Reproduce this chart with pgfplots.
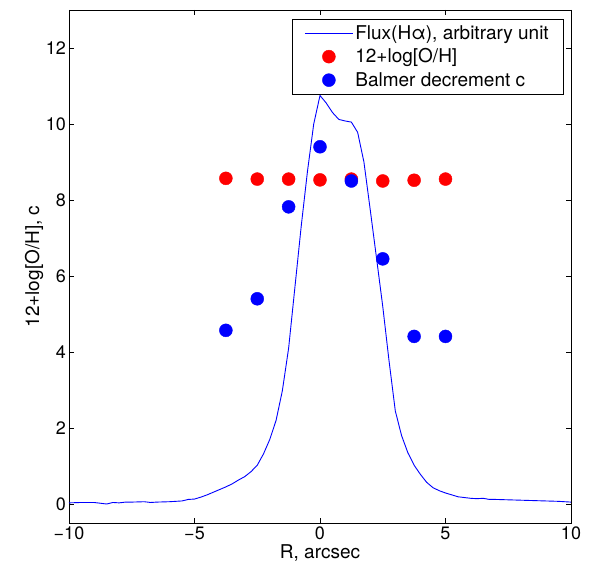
\documentclass[border=0pt]{standalone}
\usepackage{fontspec}
\setmainfont{TeX Gyre Heros}
\usepackage{pgfplots}
\pgfplotsset{compat=1.18}
\usetikzlibrary{calc}
\begin{document}
\begin{tikzpicture}
\begin{axis}[
  name=ax,
  scale only axis,
  width=502pt, height=513pt,
  xmin=-10, xmax=10, ymin=-0.5, ymax=13,
  xtick={-10,-5,0,5,10},
  xticklabels={−10,−5,0,5,10},
  ytick={0,2,4,6,8,10,12},
  /pgf/number format/assume math mode=true,
  tick align=inside,
  major tick length=5pt,
  tick style={black, line width=0.6pt},
  axis line style={line width=0.8pt},
  every axis/.append style={font=\fontsize{18}{21}\selectfont},
  ticklabel style={font=\fontsize{18}{21}\selectfont},
  yticklabel style={inner sep=1pt, xshift=-2pt},
  label style={font=\fontsize{19}{22}\selectfont},
  xlabel={R, arcsec},
  ylabel={12+log[O/H], c},
  xlabel style={yshift=2pt},
  ylabel style={yshift=-2pt},
  legend style={at={(0.984,0.982)}, anchor=north east,
    font=\fontsize{19}{22}\selectfont, row sep=4pt, inner xsep=12pt, inner ysep=4pt},
  legend cell align=left,
  legend image code/.code={\draw[mark repeat=2,mark phase=2] plot coordinates {(0pt,0pt) (24pt,0pt) (48pt,0pt)};},
]
\addplot[color=blue, line width=0.9pt, mark=none,
  legend image code/.code={\draw[blue, line width=0.9pt] (0pt,0pt) -- (48pt,0pt);}] coordinates {
(-10,0.03) (-9.5,0.04) (-9,0.04) (-8.75,0.02) (-8.5,0.0) (-8.25,0.04) (-8,0.03)
(-7.75,0.05) (-7.5,0.05) (-7,0.06) (-6.75,0.04) (-6.5,0.05) (-6,0.06) (-5.5,0.08)
(-5.25,0.12) (-5,0.13) (-4.75,0.18) (-4.5,0.24) (-4.25,0.31) (-4,0.38) (-3.75,0.45)
(-3.5,0.53) (-3.25,0.63) (-3,0.72) (-2.75,0.85) (-2.5,1.02) (-2.25,1.32) (-2,1.7)
(-1.75,2.2) (-1.5,2.98) (-1.25,4.1) (-1,5.7) (-0.75,7.3) (-0.5,8.75) (-0.25,10.0)
(0,10.75) (0.25,10.55) (0.5,10.3) (0.75,10.12) (1.0,10.08) (1.25,10.05) (1.5,9.78)
(1.75,9.0) (2.0,7.75) (2.25,6.48) (2.5,5.2) (2.75,3.77) (3.0,2.45) (3.25,1.8)
(3.5,1.35) (3.75,1.02) (4.0,0.78) (4.25,0.57) (4.5,0.43) (4.75,0.35) (5.0,0.29)
(5.25,0.24) (5.5,0.19) (5.75,0.17) (6.0,0.15) (6.25,0.14) (6.5,0.15) (6.75,0.12)
(7.0,0.12) (7.5,0.11) (8,0.10) (8.5,0.09) (9,0.08) (9.5,0.07) (10,0.05)
};
\addlegendentry{Flux(Hα), arbitrary unit}
\addplot[only marks, mark=*, mark size=6.5pt, red, mark options={draw=red, fill=red}] coordinates {
(-3.75,8.57) (-2.5,8.55) (-1.25,8.55) (0,8.53) (1.25,8.55) (2.5,8.5) (3.75,8.52) (5,8.55)
};
\addlegendentry{12+log[O/H]}
\addplot[only marks, mark=*, mark size=6.5pt, blue, mark options={draw=blue, fill=blue}] coordinates {
(-3.75,4.57) (-2.5,5.4) (-1.25,7.82) (0,9.4) (1.25,8.5) (2.5,6.45) (3.75,4.41) (5,4.41)
};
\addlegendentry{Balmer decrement c}
\end{axis}
\path ($(ax.south west)+(-69pt,-50pt)$) rectangle ($(ax.north east)+(24pt,10pt)$);
\end{tikzpicture}
\end{document}
